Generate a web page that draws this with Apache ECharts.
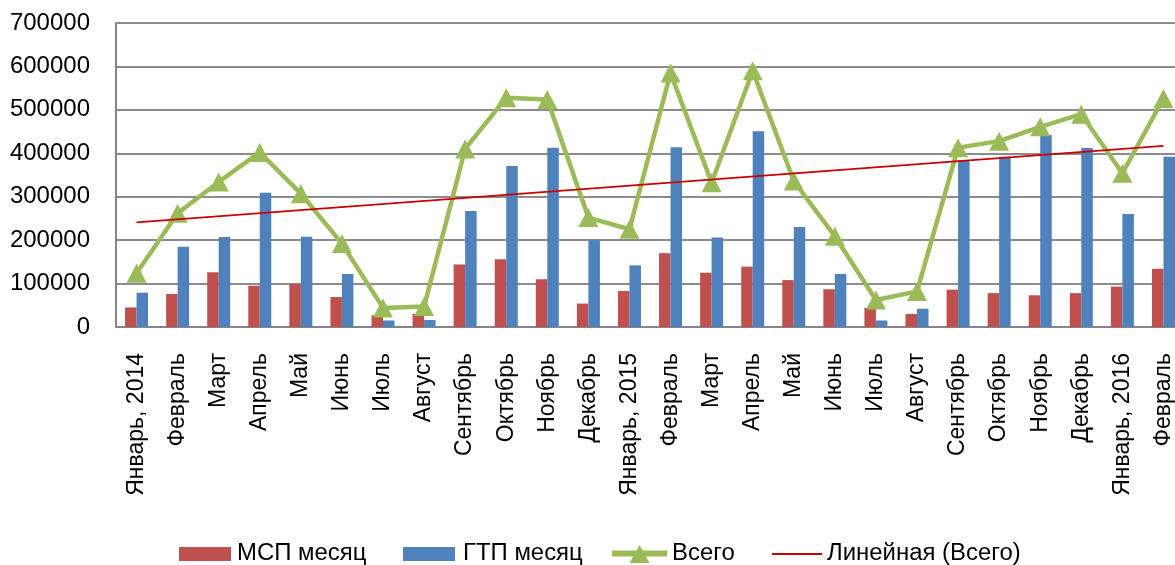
<!DOCTYPE html>
<html><head><meta charset="utf-8">
<script src="https://cdn.jsdelivr.net/npm/echarts@6/dist/echarts.min.js"></script>
<style>html,body{margin:0;padding:0;background:#fff}#c{width:1175px;height:565px}</style>
</head><body><div id="c"></div>
<script>
const categories = ['Январь, 2014','Февраль','Март','Апрель','Май','Июнь','Июль','Август','Сентябрь','Октябрь','Ноябрь','Декабрь','Январь, 2015','Февраль','Март','Апрель','Май','Июнь','Июль','Август','Сентябрь','Октябрь','Ноябрь','Декабрь','Январь, 2016','Февраль'];
const msp = [45000, 76000, 126000, 95000, 99000, 69000, 27000, 30000, 144000, 156000, 110000, 54000, 83000, 170000, 125000, 139000, 108000, 87000, 44000, 30000, 86000, 78000, 73000, 78000, 93000, 134000];
const gtp = [79000, 185000, 207000, 309000, 208000, 122000, 15000, 16000, 267000, 371000, 413000, 200000, 142000, 414000, 206000, 451000, 230000, 122000, 15000, 42000, 384000, 392000, 442000, 412000, 260000, 392000];
const total = [124000, 262000, 334000, 402000, 307000, 192000, 44000, 47000, 410000, 528000, 524000, 252000, 225000, 585000, 332000, 590000, 336000, 209000, 62000, 82000, 413000, 428000, 461000, 490000, 354000, 526000];
const trendEnds = [241000, 417000];
const yTicks = [0, 100000, 200000, 300000, 400000, 500000, 600000, 700000];
const names = ['МСП месяц', 'ГТП месяц', 'Всего', 'Линейная (Всего)'];

const C_MSP = '#C0504D', C_GTP = '#4F81BD', C_TOT = '#9BBB59', C_TREND = '#CC0000';
const chart = echarts.init(document.getElementById('c'), null, {renderer: 'canvas'});
const LY = 554; // legend centre line
const legText = (x, s) => ({type: 'text', x: x, y: LY, scaleX: 1.04, originX: 0, originY: 0,
  style: {text: s, fill: '#000', font: '23px "Liberation Sans", Arial, sans-serif', verticalAlign: 'middle'}});
chart.setOption({
  animation: false,
  grid: {left: 116, top: 23, height: 304, width: 1068, outerBoundsMode: 'none'},
  graphic: [
    {type: 'rect', shape: {x: 179, y: LY - 7, width: 52, height: 14}, style: {fill: C_MSP}},
    legText(237, names[0]),
    {type: 'rect', shape: {x: 403, y: LY - 7, width: 52, height: 14}, style: {fill: C_GTP}},
    legText(463, names[1]),
    {type: 'line', shape: {x1: 612, y1: LY - 0.5, x2: 667, y2: LY - 0.5}, style: {stroke: C_TOT, lineWidth: 6}},
    {type: 'polygon', shape: {points: [[639.5, LY - 9], [649.5, LY + 9], [629.5, LY + 9]]}, style: {fill: C_TOT}},
    legText(672, names[2]),
    {type: 'line', shape: {x1: 772, y1: LY, x2: 822, y2: LY}, style: {stroke: C_TREND, lineWidth: 2}},
    legText(827, names[3])
  ],
  xAxis: {
    type: 'category', data: categories, boundaryGap: true,
    axisLine: {lineStyle: {color: '#868686', width: 2}},
    axisTick: {show: false},
    axisLabel: {rotate: 90, interval: 0, margin: 26, fontFamily: '"Liberation Sans", Arial, sans-serif', fontSize: 23, color: '#000'}
  },
  yAxis: {
    type: 'value', min: yTicks[0], max: yTicks[yTicks.length - 1], interval: yTicks[1] - yTicks[0],
    axisLine: {show: true, lineStyle: {color: '#868686', width: 2}},
    axisTick: {show: false},
    splitLine: {lineStyle: {color: '#8c8c8c', width: 2}},
    axisLabel: {margin: 26, fontFamily: '"Liberation Sans", Arial, sans-serif', fontSize: 24, color: '#000', formatter: v => String(v)}
  },
  series: [
    {name: names[0], type: 'bar', data: msp, barWidth: 11.5, barGap: '0%', itemStyle: {color: C_MSP}, z: 2},
    {name: names[1], type: 'bar', data: gtp, barWidth: 11.5, barGap: '0%', itemStyle: {color: C_GTP}, z: 2},
    {name: names[2], type: 'line', data: total, symbol: 'triangle', symbolSize: [20, 19], lineStyle: {color: C_TOT, width: 4.5}, itemStyle: {color: C_TOT}, z: 3},
    {name: names[3], type: 'line', data: [[0, trendEnds[0]], [categories.length - 1, trendEnds[1]]], symbol: 'none', lineStyle: {color: C_TREND, width: 1.8}, itemStyle: {color: C_TREND}, z: 4}
  ]
});
</script></body></html>
